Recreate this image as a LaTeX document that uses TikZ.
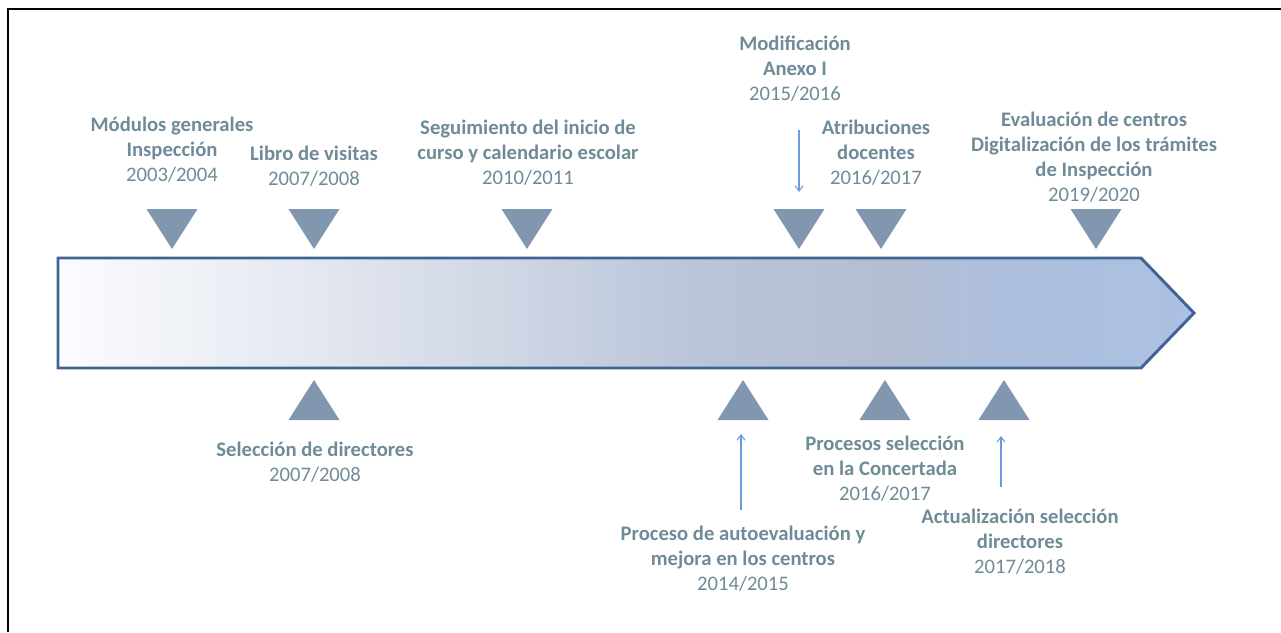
\documentclass[tikz,border=0pt]{standalone}
\usepackage{fontspec}
\setmainfont{Carlito}
\usetikzlibrary{arrows.meta}
\definecolor{txt}{HTML}{6F8B97}
\definecolor{tri}{HTML}{8196AF}
\definecolor{bord}{HTML}{3F6494}
\definecolor{blu}{HTML}{6A9BE0}
\definecolor{s0}{HTML}{FBFCFE}
\definecolor{s1}{HTML}{E4E8F0}
\definecolor{s2}{HTML}{D0D7E5}
\definecolor{s3}{HTML}{BAC5DA}
\definecolor{s4}{HTML}{B3BED2}
\definecolor{s5}{HTML}{AEBFDE}
\definecolor{s6}{HTML}{ABC0E2}
\pgfdeclarehorizontalshading{tlshade}{100bp}{color(0bp)=(s0); color(25bp)=(s0); color(36bp)=(s1); color(44.5bp)=(s2); color(53bp)=(s3); color(61.5bp)=(s4); color(66.5bp)=(s5); color(75bp)=(s6); color(100bp)=(s6)}
\tikzset{
  lbl/.style={font=\fontsize{15.5}{18.75}\selectfont, text=txt, align=center, inner sep=0pt},
  trifill/.style={fill=tri, draw=none},
  thin arrow/.style={draw=blu, line width=0.8pt, -{Straight Barb[length=4pt,width=6pt]}},
}
\begin{document}
\begin{tikzpicture}[x=0.75pt,y=-0.75pt]
\useasboundingbox (0,0) rectangle (1281,632);
% frame (only top and left visible)
\draw[line width=1.5pt, black] (7.5,632) -- (7.5,8.5) -- (1281,8.5);
% main arrow
\path[shading=tlshade, draw=bord, line width=2.2pt, line join=miter]
  (58,258) -- (1141,258) -- (1194,313) -- (1141,368) -- (58,368) -- cycle;
% down triangles
\foreach \x in {172,314,527,799,881,1096}
  \fill[trifill] (\x-25.5,209) -- (\x+25.5,209) -- (\x,249) -- cycle;
% up triangles
\foreach \x in {314,743,885,1004}
  \fill[trifill] (\x-25.5,420) -- (\x+25.5,420) -- (\x,380) -- cycle;
% labels above
\node[lbl] (m1) at (172,150) {\textbf{Módulos generales}\\\textbf{Inspección}\\2003/2004};
\node[lbl] (lv) at (314,166) {\textbf{Libro de visitas}\\2007/2008};
\node[lbl] (sg) at (528,153) {\textbf{Seguimiento del inicio de}\\\textbf{curso y calendario escolar}\\2010/2011};
\node[lbl] (md) at (795,69) {\textbf{Modificación}\\\textbf{Anexo I}\\2015/2016};
\node[lbl] (at) at (876,153) {\textbf{Atribuciones}\\\textbf{docentes}\\2016/2017};
\node[lbl] (ev) at (1094,157) {\textbf{Evaluación de centros}\\\textbf{Digitalización de los trámites}\\\textbf{de Inspección}\\2019/2020};
% labels below
\node[lbl] (sd) at (315,462) {\textbf{Selección de directores}\\2007/2008};
\node[lbl] (pa) at (743,559) {\textbf{Proceso de autoevaluación y}\\\textbf{mejora en los centros}\\2014/2015};
\node[lbl] (ps) at (885,469) {\textbf{Procesos selección}\\\textbf{en la Concertada}\\2016/2017};
\node[lbl] (ac) at (1020,542) {\textbf{Actualización selección}\\\textbf{directores}\\2017/2018};
% thin blue arrows
\coordinate (a1s) at (799,130);
\coordinate (a1e) at (799,192);
\coordinate (a2s) at (741,510);
\coordinate (a2e) at (741,434);
\coordinate (a3s) at (1001,487);
\coordinate (a3e) at (1001,436);
\draw[thin arrow] (a1s) -- (a1e);
\draw[thin arrow] (a2s) -- (a2e);
\draw[thin arrow] (a3s) -- (a3e);
\end{tikzpicture}
\end{document}
